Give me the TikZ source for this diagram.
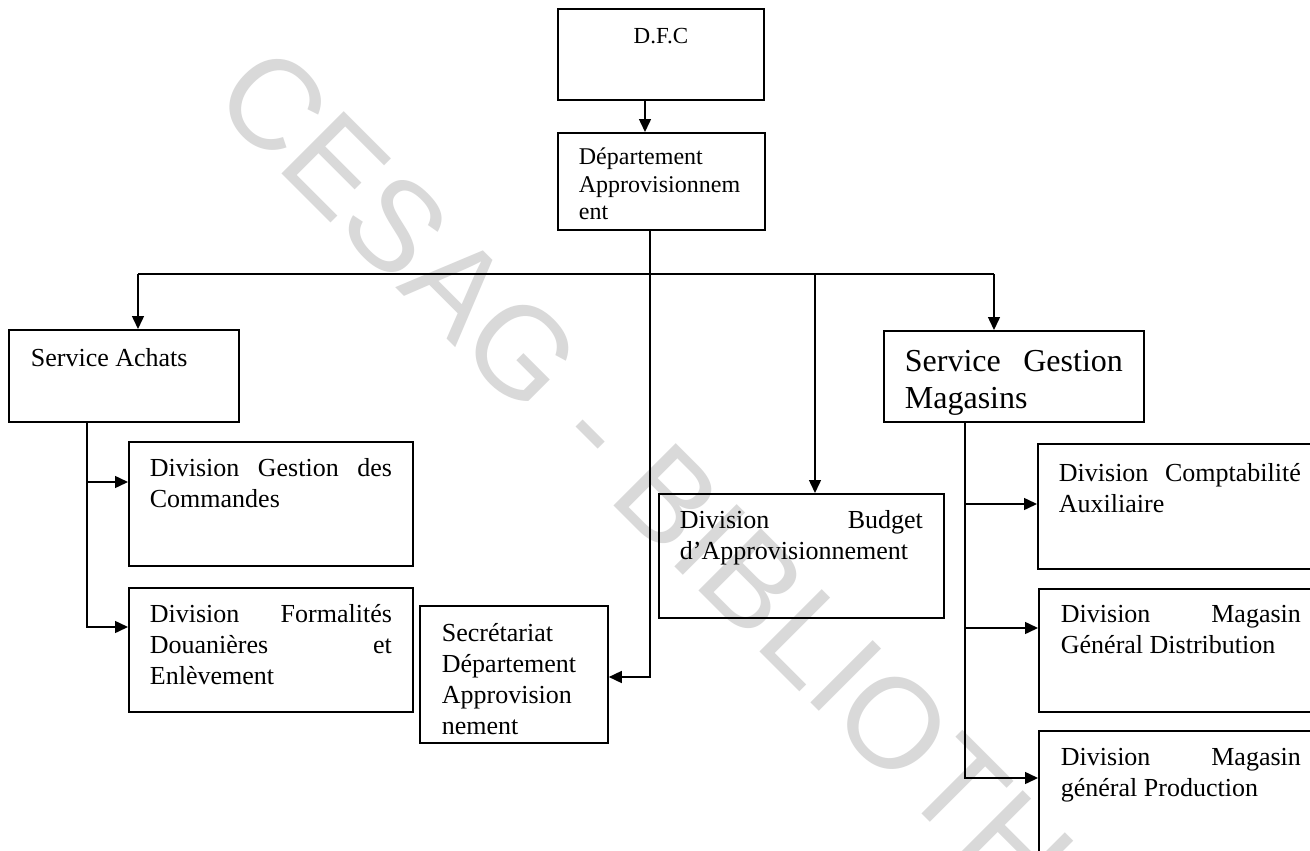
\documentclass[tikz,border=0pt]{standalone}
\usepackage{fontspec}
\setmainfont{Liberation Serif}
\newfontfamily\wmfont{Liberation Sans}
\usetikzlibrary{arrows.meta}

% text block of a box: width, height, lines
\newcommand{\boxtext}[3]{\parbox[t][#2][t]{#1}{\strut#3}}
\newcommand{\spreadline}[1]{\makebox[\linewidth][s]{#1}}

\tikzset{
  unit/.style={draw, line width=1.8pt, anchor=north west, inner xsep=21pt,
    font=\fontsize{26}{31}\selectfont},
  link/.style={line width=1.5pt},
  arr/.style={link, -{Triangle[length=13pt,width=12pt]}},
  wmark/.style={text=black!15, inner sep=0pt, font=\wmfont\fontsize{128}{128}\selectfont},
}

\begin{document}
\begin{tikzpicture}[x=1pt,y=-1pt]
  \clip (0,0) rectangle (1310,851);
  \fill[white] (0,0) rectangle (1310,851);
  % watermark
  \node[wmark, rotate=-45, anchor=base west] (wm) at (209,101) {CESAG - BIBLIOTHEQUE};

  % top
  \node[unit, inner xsep=10pt, inner ysep=15.7pt, font=\fontsize{23}{27}\selectfont] (dfc) at (557,8)
    {\boxtext{186pt}{59.6pt}{\centering D.F.C}};
  \node[unit, inner ysep=12.75pt, font=\fontsize{24}{27.5}\selectfont] (dept) at (557,132)
    {\boxtext{165pt}{71.5pt}{Département\\Approvisionnem\\ent}};

  % services
  \node[unit, inner xsep=22pt, inner ysep=15.3pt] (achats) at (8,329)
    {\boxtext{186pt}{61.4pt}{Service Achats}};
  \node[unit, inner ysep=14.7pt, font=\fontsize{32}{37}\selectfont] (sgm) at (883,330)
    {\boxtext{218pt}{61.6pt}{\spreadline{Service Gestion}\\Magasins}};

  % divisions
  \node[unit, inner ysep=12.9pt] (gestion) at (128,441)
    {\boxtext{242pt}{98.2pt}{\spreadline{Division Gestion des}\\Commandes}};
  \node[unit, inner ysep=12.9pt] (formal) at (128,587)
    {\boxtext{242pt}{98.2pt}{\spreadline{Division Formalités}\\\spreadline{Douanières et}\\Enlèvement}};
  \node[unit, inner xsep=22pt, inner ysep=13.9pt] (secret) at (419,605)
    {\boxtext{144pt}{109.2pt}{Secrétariat\\Département\\Approvision\\nement}};
  \node[unit, inner ysep=12.9pt] (budget) at (658,493)
    {\boxtext{243pt}{98.2pt}{\spreadline{Division Budget}\\d’Approvisionnement}};
  \node[unit, inner ysep=15.9pt] (compta) at (1037,443)
    {\boxtext{242pt}{93.2pt}{\spreadline{Division Comptabilité}\\Auxiliaire}};
  \node[unit, inner xsep=22pt, inner ysep=11.9pt] (distrib) at (1038,588)
    {\boxtext{240pt}{99.2pt}{\spreadline{Division Magasin}\\Général Distribution}};
  \node[unit, inner xsep=22pt, inner ysep=12.9pt] (prod) at (1038,730)
    {\boxtext{240pt}{124.2pt}{\spreadline{Division Magasin}\\général Production}};

  % links
  \coordinate (busL) at (138,274);
  \coordinate (busB) at (815,274);
  \coordinate (busR) at (994,274);
  \draw[arr] ([xshift=88pt]dfc.south west) -- ([xshift=88pt]dept.north west);
  \draw[arr] ([xshift=93pt]dept.south west) |- ([yshift=-72pt]secret.north east);
  \draw[link] (busL) -- (busR);
  \draw[arr] (busL) -- (busL |- achats.north);
  \draw[arr] (busB) -- (busB |- budget.north);
  \draw[arr] (busR) -- (busR |- sgm.north);

  \draw[arr] ([xshift=79pt]achats.south west) |- ([yshift=-41pt]gestion.north west);
  \draw[arr] ([xshift=79pt]achats.south west) |- ([yshift=-40pt]formal.north west);

  \draw[arr] ([xshift=82pt]sgm.south west) |- ([yshift=-61pt]compta.north west);
  \draw[arr] ([xshift=82pt]sgm.south west) |- ([yshift=-40pt]distrib.north west);
  \draw[arr] ([xshift=82pt]sgm.south west) |- ([yshift=-48pt]prod.north west);
\end{tikzpicture}
\end{document}
